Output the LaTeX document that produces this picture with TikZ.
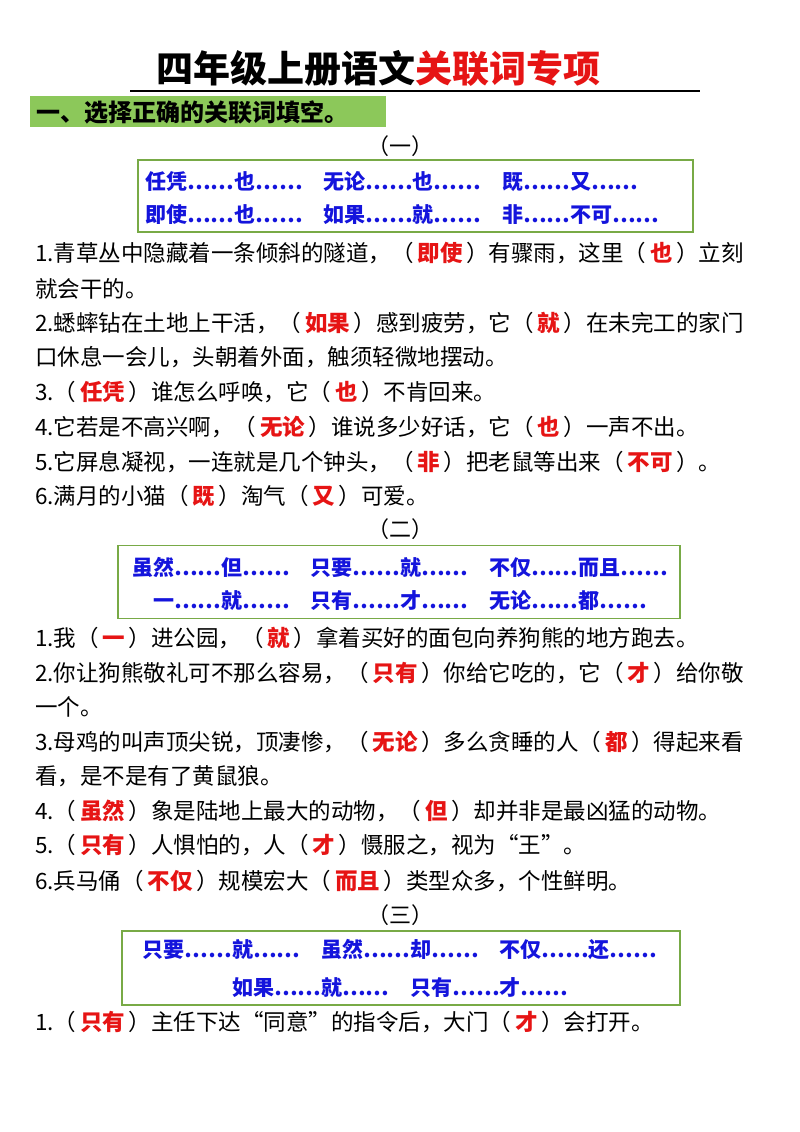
\documentclass[tikz,border=0pt]{standalone}
\usepackage{fontspec}
\setmainfont{Noto Sans CJK SC}
\definecolor{gbox}{RGB}{120,170,70}
\definecolor{hl}{RGB}{140,200,90}
\definecolor{ans}{RGB}{230,20,20}
\definecolor{kw}{RGB}{20,20,220}
\newcommand{\ans}[1]{（\,\textcolor{ans}{\bfseries #1}\,）}
\begin{document}
\begin{tikzpicture}[x=1pt,y=-1pt,
  line/.style={anchor=west,inner sep=0pt,font=\fontsize{22.5}{26}\selectfont},
  kwl/.style={anchor=center,inner sep=0pt,font=\fontsize{21}{25}\selectfont\bfseries,text=kw},
  hd/.style={anchor=center,inner sep=0pt,font=\fontsize{22}{26}\selectfont},
  wbox/.style={draw=gbox,line width=1.5pt}]
\useasboundingbox (0,0) rectangle (800,1132);
\fill[white] (0,0) rectangle (800,1132);
% title
\node[inner sep=0pt,font=\fontsize{37}{42}\selectfont\bfseries] (title) at (378,68) {四年级上册语文\textcolor{ans}{关联词专项}};
\coordinate (u1) at (130,91); \coordinate (u2) at (700,91);
\draw[line width=1.2pt] (u1) -- (u2);
% section header
\fill[hl] (30,96) rectangle (386,127);
\node[anchor=west,inner sep=0pt,font=\fontsize{24}{28}\selectfont\bfseries] (sec) at (36,112) {一、选择正确的关联词填空。};
% (一)
\node[hd] (h1) at (400,146) {（一）};
\node[wbox,minimum width=555pt,minimum height=72pt] (b1) at (415.5,196) {};
\node[kwl,anchor=west] (k11) at (145,182) {任凭……也……\quad 无论……也……\quad 既……又……};
\node[kwl,anchor=west] (k12) at (145,215) {即使……也……\quad 如果……就……\quad 非……不可……};
\node[line] (a1) at (35,253) {1.青草丛中隐藏着一条倾斜的隧道，\ans{即使}有骤雨，这里\ans{也}立刻};
\node[line] (a2) at (35,289) {就会干的。};
\node[line] (a3) at (35,323) {2.蟋蟀钻在土地上干活，\ans{如果}感到疲劳，它\ans{就}在未完工的家门};
\node[line] (a4) at (35,357) {口休息一会儿，头朝着外面，触须轻微地摆动。};
\node[line] (a5) at (35,392) {3.\ans{任凭}谁怎么呼唤，它\ans{也}不肯回来。};
\node[line] (a6) at (35,427) {4.它若是不高兴啊，\ans{无论}谁说多少好话，它\ans{也}一声不出。};
\node[line] (a7) at (35,462) {5.它屏息凝视，一连就是几个钟头，\ans{非}把老鼠等出来\ans{不可}。};
\node[line] (a8) at (35,496) {6.满月的小猫\ans{既}淘气\ans{又}可爱。};
% (二)
\node[hd] (h2) at (400,529) {（二）};
\node[wbox,minimum width=562pt,minimum height=73pt] (b2) at (399,582) {};
\node[kwl] (k21) at (400,567) {虽然……但……\quad 只要……就……\quad 不仅……而且……};
\node[kwl] (k22) at (400,601) {一……就……\quad 只有……才……\quad 无论……都……};
\node[line] (c1) at (35,638) {1.我\ans{一}进公园，\ans{就}拿着买好的面包向养狗熊的地方跑去。};
\node[line] (c2) at (35,673) {2.你让狗熊敬礼可不那么容易，\ans{只有}你给它吃的，它\ans{才}给你敬};
\node[line] (c3) at (35,707) {一个。};
\node[line] (c4) at (35,742) {3.母鸡的叫声顶尖锐，顶凄惨，\ans{无论}多么贪睡的人\ans{都}得起来看};
\node[line] (c5) at (35,776) {看，是不是有了黄鼠狼。};
\node[line] (c6) at (35,811) {4.\ans{虽然}象是陆地上最大的动物，\ans{但}却并非是最凶猛的动物。};
\node[line] (c7) at (35,845) {5.\ans{只有}人惧怕的，人\ans{才}慑服之，视为“王”。};
\node[line] (c8) at (35,881) {6.兵马俑\ans{不仅}规模宏大\ans{而且}类型众多，个性鲜明。};
% (三)
\node[hd] (h3) at (400,915) {（三）};
\node[wbox,minimum width=558pt,minimum height=74pt] (b3) at (401,968) {};
\node[kwl] (k31) at (400,950) {只要……就……\quad 虽然……却……\quad 不仅……还……};
\node[kwl] (k32) at (400,988) {如果……就……\quad 只有……才……};
\node[line] (d1) at (35,1022) {1.\ans{只有}主任下达“同意”的指令后，大门\ans{才}会打开。};
\end{tikzpicture}
\end{document}
